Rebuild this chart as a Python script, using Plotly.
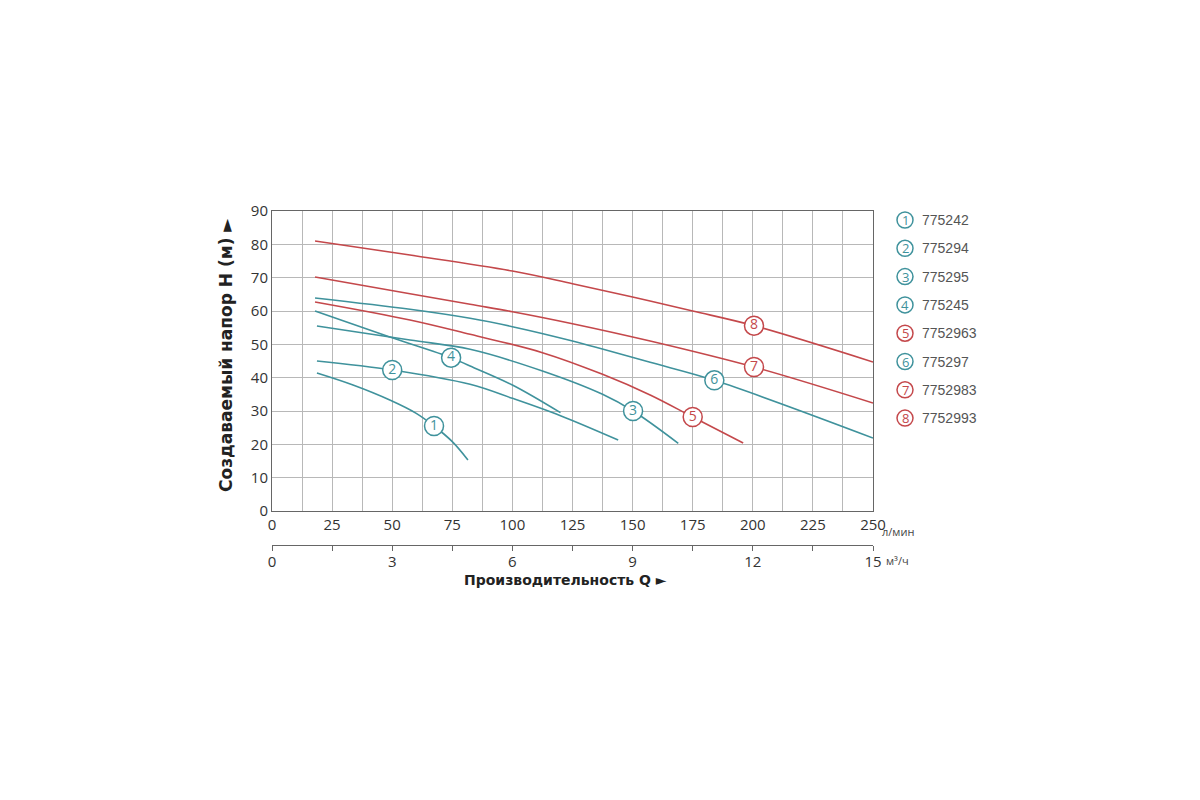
import plotly.graph_objects as go

# Pump curves: flow Q (l/min) vs head H (m)
codes = ["775242", "775294", "775295", "775245",
         "7752963", "775297", "7752983", "7752993"]
numbers = ["1", "2", "3", "4", "5", "6", "7", "8"]

q1 = [18.7, 33.7, 49, 60, 67.4, 75, 81.5]
h1 = [41.4, 37.8, 33.3, 29.3, 25.5, 20.8, 15.3]
q2 = [18.7, 50, 82.4, 100, 120, 144]
h2 = [45.0, 42.3, 38.0, 33.8, 28.6, 21.3]
q3 = [18.7, 57.4, 82.4, 112.5, 137.5, 150.2, 169]
h3 = [55.5, 51.3, 48.5, 42.0, 35.0, 30.0, 20.3]
q4 = [17.9, 49, 74.5, 82.4, 100, 120]
h4 = [60.0, 52.2, 46.0, 43.5, 37.8, 29.5]
q5 = [17.9, 57.4, 82.4, 112.5, 137.5, 157.3, 175, 196]
h5 = [62.7, 57.3, 53.0, 47.5, 41.0, 34.8, 28.2, 20.4]
q6 = [17.9, 57.4, 82.4, 100, 125, 157.3, 184, 250]
h6 = [63.9, 60.5, 57.8, 55.3, 51.0, 44.6, 39.2, 21.9]
q7 = [17.9, 57.4, 82.4, 100, 125, 157.3, 200.5, 250]
h7 = [70.2, 65.2, 62.0, 59.8, 56.2, 51.0, 43.2, 32.4]
q8 = [17.9, 57.4, 100, 125, 150, 175, 200.5, 250]
h8 = [81.0, 76.8, 72.0, 68.2, 64.2, 60.0, 55.6, 44.7]

# where the numbered circles sit on each curve
label_q = [67.4, 50, 150.2, 74.5, 175, 184, 200.5, 200.5]
label_h = [25.5, 42.3, 30.0, 46.0, 28.2, 39.2, 43.2, 55.6]

TEAL = "#3f929c"
RED = "#c4484b"
colors = [TEAL, TEAL, TEAL, TEAL, RED, TEAL, RED, RED]

curves = [(q1, h1), (q2, h2), (q3, h3), (q4, h4),
          (q5, h5), (q6, h6), (q7, h7), (q8, h8)]

fig = go.Figure()

for (q, h), c in zip(curves, colors):
    fig.add_trace(go.Scatter(x=q, y=h, mode="lines",
                             line=dict(color=c, width=1.6, shape="spline",
                                       smoothing=1.0),
                             hoverinfo="skip"))

# numbered circles on the curves
for i in range(len(numbers)):
    fig.add_trace(go.Scatter(x=[label_q[i]], y=[label_h[i]],
                             mode="markers+text",
                             marker=dict(symbol="circle", size=19, color="white",
                                         line=dict(color=colors[i], width=1.5)),
                             text=[numbers[i]], textposition="middle center",
                             textfont=dict(family="Open Sans", size=14,
                                           color=colors[i]),
                             cliponaxis=False, hoverinfo="skip"))

# layout in page pixels (page has an 8px body offset)
OFF = 8
W, H = 1200, 800
ML, MR, MT, MB = 264, 335, 203, 200
pw = W - ML - MR
ph = H - MT - MB


def px(x):
    return (x - OFF - ML) / pw


def py(y):
    return (H - MB - (y - OFF)) / ph


fig.update_layout(
    width=W, height=H,
    margin=dict(l=ML, r=MR, t=MT, b=MB),
    paper_bgcolor="white", plot_bgcolor="white",
    showlegend=False,
    font=dict(family="Open Sans", color="#333"),
    xaxis=dict(range=[0, 250], tickvals=list(range(0, 251, 25)),
               showgrid=True, gridcolor="#b8b8b8", gridwidth=1,
               minor=dict(dtick=12.5, tick0=0, showgrid=True,
                          gridcolor="#b8b8b8", gridwidth=1),
               showline=True, linecolor="#666", linewidth=1, mirror=True,
               ticks="", tickfont=dict(size=15, color="#333"),
               zeroline=False, fixedrange=True),
    yaxis=dict(range=[0, 90], dtick=10, domain=[py(511), 1],
               showgrid=True, gridcolor="#b8b8b8", gridwidth=1,
               showline=True, linecolor="#666", linewidth=1, mirror=True,
               ticks="", tickfont=dict(size=15, color="#333"),
               zeroline=False, fixedrange=True),
    xaxis2=dict(range=[0, 15], overlaying="x", anchor="free",
                position=py(545), side="bottom",
                tickvals=[i * 1.5 for i in range(11)],
                ticktext=[str(int(i * 1.5)) if i % 2 == 0 else ""
                          for i in range(11)],
                ticks="outside", ticklen=5, tickcolor="#666",
                ticklabelstandoff=-2,
                showline=True, linecolor="#666", linewidth=1,
                showgrid=False, zeroline=False,
                tickfont=dict(size=15, color="#333")),
)

# dummy invisible trace so the m³/h axis gets drawn
fig.add_trace(go.Scatter(x=[0, 15], y=[0, 0], xaxis="x2", yaxis="y",
                         mode="markers", marker=dict(opacity=0),
                         hoverinfo="skip"))

# axis titles and units
fig.add_annotation(text="Создаваемый напор H (м) ►", textangle=-90,
                   xref="paper", yref="paper", x=px(226), y=py(355),
                   xanchor="center", yanchor="middle", showarrow=False,
                   font=dict(family="DejaVu Sans", size=17, color="#222",
                             weight="bold"))
fig.add_annotation(text="Производительность Q ►",
                   xref="paper", yref="paper", x=px(565), y=py(580),
                   xanchor="center", yanchor="middle", showarrow=False,
                   font=dict(family="DejaVu Sans", size=14, color="#222",
                             weight="bold"))
fig.add_annotation(text="л/мин", xref="paper", yref="paper",
                   x=px(880), y=py(531), xanchor="left", yanchor="middle",
                   showarrow=False, font=dict(size=11, color="#444"))
fig.add_annotation(text="м³/ч", xref="paper", yref="paper",
                   x=px(884), y=py(560), xanchor="left", yanchor="middle",
                   showarrow=False, font=dict(size=11, color="#444"))

# legend: numbered circles with article codes
for i in range(len(codes)):
    yc = py(220 + i * 28.3)
    fig.add_shape(type="circle", xref="paper", yref="paper",
                  xsizemode="pixel", ysizemode="pixel",
                  xanchor=px(905), yanchor=yc,
                  x0=-8, x1=8, y0=-8, y1=8,
                  line=dict(color=colors[i], width=1.5), fillcolor="white")
    fig.add_annotation(text=numbers[i], xref="paper", yref="paper",
                       x=px(905), y=yc, xanchor="center", yanchor="middle",
                       showarrow=False,
                       font=dict(size=13, color=colors[i]))
    fig.add_annotation(text=codes[i], xref="paper", yref="paper",
                       x=px(920), y=yc, xanchor="left", yanchor="middle",
                       showarrow=False,
                       font=dict(family="Liberation Sans", size=14,
                                 color="#555"))

fig.write_html("out.html")
